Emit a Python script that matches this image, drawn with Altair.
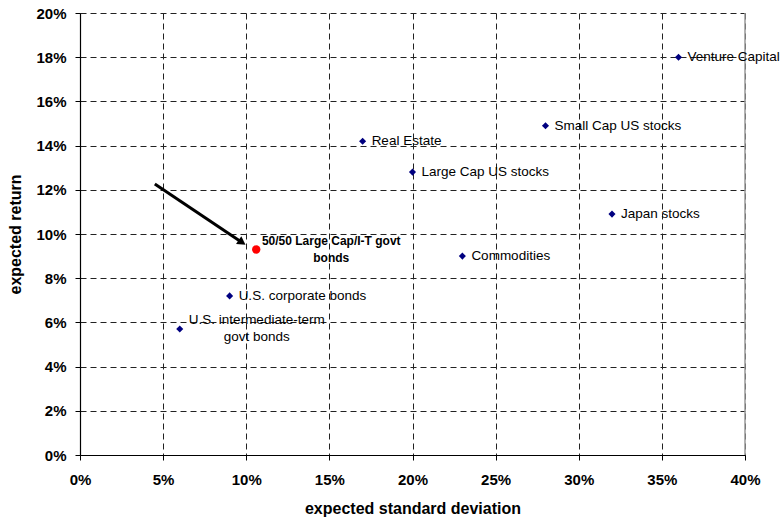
import altair as alt
import pandas as pd

# asset classes: expected std dev (%), expected return (%)
names = ["Venture Capital", "Small Cap US stocks", "Real Estate", "Large Cap US stocks",
         "Japan stocks", "Commodities", "U.S. corporate bonds"]
sd = [36, 28, 17, 20, 32, 23, 9]
ret = [18.0, 14.9, 14.2, 12.8, 10.9, 9.0, 7.2]

govt_name = ["U.S. intermediate-term", "govt bonds"]
govt_sd = [6]
govt_ret = [5.7]

mix_name = ["50/50 Large Cap/I-T govt", "bonds"]
mix_sd = [10.6]
mix_ret = [9.3]

arrow_x = [4.5]
arrow_y = [12.26]
arrow_x2 = [9.75]
arrow_y2 = [9.62]

x_ticks = [0, 5, 10, 15, 20, 25, 30, 35, 40]
y_ticks = [0, 2, 4, 6, 8, 10, 12, 14, 16, 18, 20]

FONT = "Liberation Sans"
NAVY = "#000080"

df = pd.DataFrame({"sd": sd, "ret": ret, "name": names})
gdf = pd.DataFrame({"sd": govt_sd, "ret": govt_ret, "name": [govt_name]})
mdf = pd.DataFrame({"sd": mix_sd, "ret": mix_ret, "name": [mix_name]})
adf = pd.DataFrame({"x": arrow_x, "y": arrow_y, "x2": arrow_x2, "y2": arrow_y2})
pts = pd.concat([df, gdf], ignore_index=True)

xs = alt.Scale(domain=[0, 40], nice=False, zero=False)
ys = alt.Scale(domain=[0, 20], nice=False, zero=False)

xax = alt.Axis(values=x_ticks, labelExpr="datum.value + '%'", title="expected standard deviation",
               grid=True, gridDash=[6, 4], gridColor="#222222", gridWidth=1,
               domainColor="#000000", domainWidth=1.2, tickColor="#000000", tickSize=5,
               labelFont=FONT, labelFontSize=15, labelFontWeight="bold", labelColor="#000000",
               labelPadding=12, labelFlush=False, labelOverlap=False,
               titleFont=FONT, titleFontSize=16, titleFontWeight="bold",
               titleColor="#000000", titlePadding=13)
yax = alt.Axis(values=y_ticks, labelExpr="datum.value + '%'", title="expected return",
               grid=True, gridDash=[6, 4], gridColor="#222222", gridWidth=1,
               domainColor="#000000", domainWidth=1.2, tickColor="#000000", tickSize=5,
               labelFont=FONT, labelFontSize=15, labelFontWeight="bold", labelColor="#000000",
               labelPadding=9, labelFlush=False, labelOverlap=False,
               titleFont=FONT, titleFontSize=16, titleFontWeight="bold",
               titleColor="#000000", titlePadding=12)

base = alt.Chart(df)

points = alt.Chart(pts).mark_point(shape="diamond", filled=True, color=NAVY, size=50, opacity=1).encode(
    x=alt.X("sd:Q", scale=xs, axis=xax),
    y=alt.Y("ret:Q", scale=ys, axis=yax),
)

labels = base.mark_text(align="left", baseline="middle", dx=9, font=FONT, fontSize=13.5, color="#000000").encode(
    x=alt.X("sd:Q", scale=xs), y=alt.Y("ret:Q", scale=ys), text="name:N")

glabel = alt.Chart(gdf).mark_text(align="center", baseline="middle", dx=77, dy=-9, font=FONT, fontSize=13.5,
                                  color="#000000", lineHeight=17).encode(
    x=alt.X("sd:Q", scale=xs), y=alt.Y("ret:Q", scale=ys), text="name")

mix_pt = alt.Chart(mdf).mark_point(shape="circle", filled=True, color="#ff0000", size=70, opacity=1).encode(
    x=alt.X("sd:Q", scale=xs), y=alt.Y("ret:Q", scale=ys))

mlabel = alt.Chart(mdf).mark_text(align="center", baseline="middle", dx=75, dy=-8, font=FONT, fontSize=12,
                                  fontWeight="bold", color="#000000", lineHeight=17).encode(
    x=alt.X("sd:Q", scale=xs), y=alt.Y("ret:Q", scale=ys), text="name")

shaft = alt.Chart(adf).mark_rule(color="#000000", strokeWidth=3).encode(
    x=alt.X("x:Q", scale=xs), y=alt.Y("y:Q", scale=ys), x2="x2:Q", y2="y2:Q")

head = alt.Chart(adf).mark_point(shape="triangle-right", filled=True, color="#000000", size=90,
                                 opacity=1, angle=33.7).encode(
    x=alt.X("x2:Q", scale=xs), y=alt.Y("y2:Q", scale=ys))

right_edge = alt.Chart(pd.DataFrame({"x": [40]})).mark_rule(color="#999999", strokeWidth=1.5).encode(
    x=alt.X("x:Q", scale=xs))

chart = alt.layer(right_edge, shaft, head, points, labels, glabel, mix_pt, mlabel).properties(
    width=665, height=442,
    autosize=alt.AutoSizeParams(type="none"),
    padding={"left": 80, "top": 13, "right": 38, "bottom": 66},
    background="#ffffff",
).configure_view(stroke=None)

chart.save("out.html", embed_options={"renderer": "svg", "actions": False})
